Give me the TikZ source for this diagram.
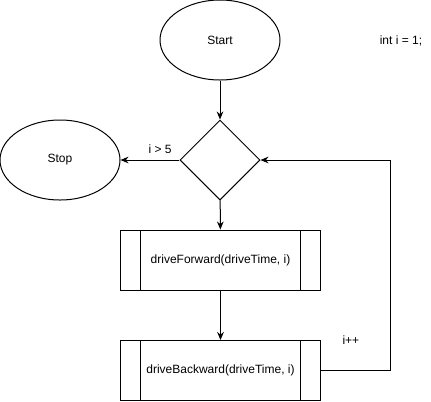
\documentclass[tikz,border=0pt]{standalone}
\usepackage{fontspec}
\setmainfont{Liberation Sans}
\usepackage{tikz}
\usetikzlibrary{positioning,arrows.meta,shapes.geometric,calc}

\begin{document}
\begin{tikzpicture}[
  x=0.75pt, y=-0.75pt,
  every node/.style={font=\fontsize{9}{11}\selectfont},
  terminal/.style={
    ellipse, draw, line width=0.75pt,
    minimum width=90pt, minimum height=60pt, inner sep=0pt
  },
  decision/.style={
    diamond, draw, line width=0.75pt, aspect=1,
    minimum width=60pt, minimum height=60pt, inner sep=0pt
  },
  subproc/.style={
    rectangle, draw, line width=0.75pt,
    minimum width=150pt, minimum height=45pt, inner sep=0pt,
    path picture={
      \draw[line width=0.75pt]
        ([xshift=15pt]path picture bounding box.north west) --
        ([xshift=15pt]path picture bounding box.south west);
      \draw[line width=0.75pt]
        ([xshift=-15pt]path picture bounding box.north east) --
        ([xshift=-15pt]path picture bounding box.south east);
    }
  },
  arr/.style={-{Stealth[length=6pt,width=5pt]}, line width=0.75pt}
]
\useasboundingbox (0,0) rectangle (431,401);

% Blocks
\node[terminal] (start) at (220,40) {Start};
\node (init) at (401,41) {int i = 1;};

\node[decision] (cond) at (220,160) {};
\node[terminal] (stop) at (60,160) {Stop};

\node[subproc] (fwd) at (220.5,260) {driveForward(driveTime, i)};
\node[subproc] (back) at (220.5,370.5) {driveBackward(driveTime, i)};

\coordinate (loop) at (390.5,370.5);

% Edges
\draw[arr] (start) -- (cond);
\draw[arr] (cond) -- node[pos=0.33, above=1pt] {i > 5} (stop);
\draw[arr] (cond) -- (fwd);
\draw[arr] (fwd) -- (back);
\draw[arr] (back.east) -- node[pos=0.43, above=16pt] {i++} (loop) |- (cond.east);

\end{tikzpicture}
\end{document}
